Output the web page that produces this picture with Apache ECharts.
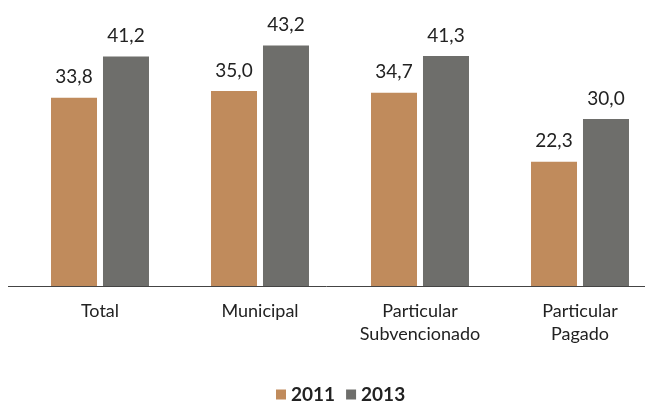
<!DOCTYPE html>
<html><head><meta charset="utf-8">
<script src="https://cdn.jsdelivr.net/npm/echarts@6/dist/echarts.min.js"></script>
<style>html,body{margin:0;padding:0;background:#fff}#c{width:652px;height:401px}</style>
</head><body><div id="c"></div>
<script>
const categories = ['Total', 'Municipal', 'Particular\nSubvencionado', 'Particular\nPagado'];
const seriesNames = ['2011', '2013'];
const values2011 = [33.8, 35.0, 34.7, 22.3];
const values2013 = [41.2, 43.2, 41.3, 30.0];
const colors = ['#C08B5C', '#6E6E6B'];
const FONT = 'Lato';
const fmt = v => v.toFixed(1).replace('.', ',');
const chart = echarts.init(document.getElementById('c'));
const labelOpt = {show: true, position: 'top', distance: 11, fontFamily: FONT, fontSize: 19, color: '#222',
  formatter: p => fmt(p.value)};
chart.setOption({
  animation: false,
  grid: {left: 100, width: 480, top: 7.5, height: 278.5, containLabel: false},
  legend: {top: 380, left: 271, itemWidth: 10, itemHeight: 10, itemGap: 11,
    icon: 'rect', textStyle: {fontFamily: FONT, fontSize: 19, fontWeight: 'bold', color: '#222'}, data: seriesNames},
  xAxis: {type: 'category', data: categories, boundaryGap: false, axisLine: {show: false}, axisTick: {show: false},
    axisLabel: {fontFamily: FONT, fontSize: 18, color: '#222', margin: 14, lineHeight: 23}},
  yAxis: {type: 'value', min: 0, max: 50, show: false, splitLine: {show: false}},
  series: [
    {name: seriesNames[0], type: 'bar', data: values2011, barWidth: 46, barGap: '13%', clip: false, itemStyle: {color: colors[0]}, label: labelOpt},
    {name: seriesNames[1], type: 'bar', data: values2013, barWidth: 46, clip: false, itemStyle: {color: colors[1]}, label: labelOpt}
  ],
  graphic: [{type: 'line', shape: {x1: 8, y1: 286.5, x2: 645, y2: 286.5}, style: {stroke: '#444', lineWidth: 1}, z: 10}]
});
</script></body></html>
